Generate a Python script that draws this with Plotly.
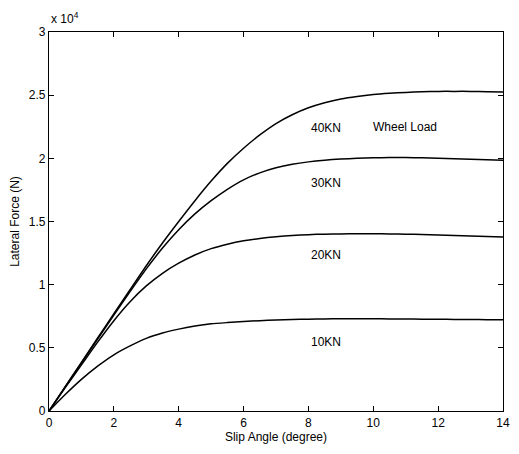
import plotly.graph_objects as go

# Lateral force (N) vs. slip angle (degree) for four wheel loads
slip_angle = [0, 0.5, 1, 1.5, 2, 2.5, 3, 3.5, 4, 4.5, 5, 5.5, 6, 6.5, 7, 7.5,
              8, 8.5, 9, 9.5, 10, 10.5, 11, 11.5, 12, 12.5, 13, 13.5, 14]

force_40kn = [0, 1930, 3850, 5780, 7700, 9600, 11500, 13300, 15000, 16650, 18200,
              19600, 20800, 21850, 22750, 23450, 24000, 24400, 24700, 24900, 25050,
              25150, 25220, 25270, 25300, 25300, 25300, 25280, 25250]

force_30kn = [0, 1900, 3800, 5700, 7600, 9450, 11250, 12900, 14350, 15600, 16650,
              17550, 18300, 18850, 19250, 19530, 19720, 19850, 19940, 20000, 20040,
              20060, 20060, 20040, 20000, 19960, 19920, 19880, 19840]

force_20kn = [0, 1850, 3650, 5450, 7150, 8650, 9900, 10900, 11700, 12350, 12850,
              13200, 13470, 13660, 13800, 13900, 13960, 14000, 14020, 14030, 14030,
              14020, 14000, 13970, 13940, 13900, 13860, 13820, 13780]

force_10kn = [0, 1300, 2500, 3550, 4450, 5150, 5750, 6170, 6480, 6720, 6900, 7000,
              7080, 7150, 7200, 7240, 7270, 7290, 7300, 7300, 7300, 7290, 7280, 7270,
              7260, 7250, 7240, 7230, 7220]

load_labels = ["40KN", "30KN", "20KN", "10KN"]
label_slip = [8.54, 8.54, 8.54, 8.54]
label_force = [22400, 18050, 12350, 5460]

x_ticks = [0, 2, 4, 6, 8, 10, 12, 14]
y_tickvals = [0, 5000, 10000, 15000, 20000, 25000, 30000]
y_ticktext = ["0", "0.5", "1", "1.5", "2", "2.5", "3"]

font_family = "Liberation Sans, Arial, sans-serif"

fig = go.Figure()
for ys, name in [(force_40kn, "40KN"), (force_30kn, "30KN"),
                 (force_20kn, "20KN"), (force_10kn, "10KN")]:
    fig.add_trace(go.Scatter(
        x=slip_angle, y=ys, mode="lines", name=name,
        line=dict(color="black", width=1.5, shape="spline", smoothing=0.6),
        showlegend=False, hoverinfo="skip",
    ))

for lbl, lx, ly in zip(load_labels, label_slip, label_force):
    fig.add_annotation(x=lx, y=ly, text=lbl, showarrow=False,
                       font=dict(family=font_family, size=12, color="black"))

fig.add_annotation(x=10.97, y=22450, text="Wheel Load", showarrow=False,
                   font=dict(family=font_family, size=12, color="black"))

# exponent marker for the y axis scale
fig.add_annotation(xref="paper", yref="paper", x=0.0, y=1.0, xanchor="left",
                   yanchor="bottom", yshift=4, text="x 10<sup>4</sup>", showarrow=False,
                   font=dict(family=font_family, size=12, color="black"))

axis_common = dict(
    showgrid=False, zeroline=False, showline=True, linecolor="black", linewidth=1.2,
    mirror="allticks", ticks="inside", ticklen=5, tickcolor="black", tickwidth=1,
    tickfont=dict(family=font_family, size=12, color="black"),
)

fig.update_xaxes(range=[0, 14], tickvals=x_ticks,
                 title=dict(text="Slip Angle (degree)", standoff=4,
                            font=dict(family=font_family, size=12, color="black")),
                 **axis_common)
fig.update_yaxes(range=[0, 30000], tickvals=y_tickvals, ticktext=y_ticktext,
                 title=dict(text="Lateral Force (N)", standoff=6,
                            font=dict(family=font_family, size=12, color="black")),
                 **axis_common)

fig.update_layout(
    width=519, height=454,
    margin=dict(l=49, r=9, t=32, b=43),
    paper_bgcolor="white", plot_bgcolor="white",
)

fig.write_html("out.html")
